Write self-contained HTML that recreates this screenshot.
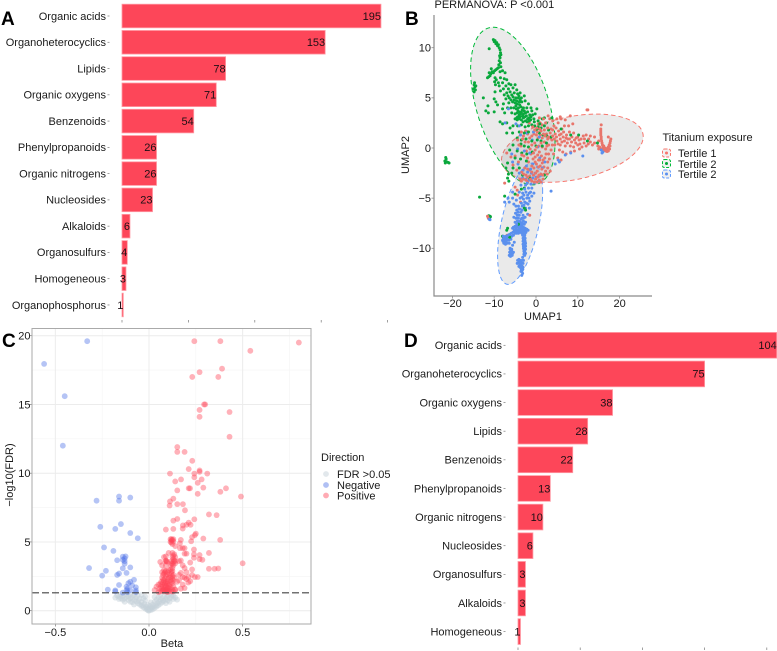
<!DOCTYPE html>
<html lang="en">
<head>
<meta charset="utf-8">
<title>Titanium exposure metabolomics figure</title>
<style>
html,body{margin:0;padding:0;background:#fff;width:777px;height:651px;overflow:hidden}
svg{display:block;font-family:"Liberation Sans",Arial,sans-serif;filter:blur(0.3px)}
text{fill:#1a1a1a;font-size:11px}
.letter{font-size:19px;font-weight:bold;fill:#000}
</style>
</head>
<body>
<svg id="fig" xmlns="http://www.w3.org/2000/svg" width="777" height="651" viewBox="0 0 777 651">
  <g id="panelA"></g>
  <g id="panelD"></g>
  <g id="panelB"></g>
  <g id="panelC"></g>

  <text class="letter" x="1" y="25">A</text>
  <text class="letter" x="405" y="25">B</text>
  <text class="letter" x="2" y="347">C</text>
  <text class="letter" x="404" y="347">D</text>

  <text x="434.5" y="8">PERMANOVA: P &lt;0.001</text>
  <text x="543" y="320" text-anchor="middle">UMAP1</text>
  <text transform="translate(409,155) rotate(-90)" text-anchor="middle">UMAP2</text>
  <text x="662.5" y="141">Titanium exposure</text>
  <g>
    <rect x="662.5" y="149" width="8" height="8" rx="2" fill="#f0f0f0" stroke="#F8766D" stroke-dasharray="3 1.5"/>
    <circle cx="666.5" cy="153" r="1.5" fill="#F8766D"/>
    <text x="678" y="157">Tertile 1</text>
  </g>
  <g>
    <rect x="662.5" y="159.5" width="8" height="8" rx="2" fill="#f0f0f0" stroke="#00BA38" stroke-dasharray="3 1.5"/>
    <circle cx="666.5" cy="163.5" r="1.5" fill="#00A838"/>
    <text x="678" y="168">Tertile 2</text>
  </g>
  <g>
    <rect x="662.5" y="170" width="8" height="8" rx="2" fill="#f0f0f0" stroke="#619CFF" stroke-dasharray="3 1.5"/>
    <circle cx="666.5" cy="174" r="1.5" fill="#5B90EE"/>
    <text x="678" y="178">Tertile 2</text>
  </g>

  <text x="172" y="647" text-anchor="middle">Beta</text>
  <text transform="translate(13,475) rotate(-90)" text-anchor="middle">−log10(FDR)</text>
  <text x="321" y="461">Direction</text>
  <g>
    <circle cx="326" cy="474" r="2.9" fill="#c5d2da" fill-opacity="0.5"/>
    <text x="337" y="478">FDR &gt;0.05</text>
  </g>
  <g>
    <circle cx="326" cy="485" r="2.9" fill="#4f73e6" fill-opacity="0.45"/>
    <text x="337" y="489">Negative</text>
  </g>
  <g>
    <circle cx="326" cy="495.5" r="2.9" fill="#ff4458" fill-opacity="0.45"/>
    <text x="337" y="499.5">Positive</text>
  </g>
</svg>

<script>
// ---------- Panel A data ----------
const categoriesA = ["Organic acids","Organoheterocyclics","Lipids","Organic oxygens","Benzenoids","Phenylpropanoids","Organic nitrogens","Nucleosides","Alkaloids","Organosulfurs","Homogeneous","Organophosphorus"];
const valuesA = [195,153,78,71,54,26,26,23,6,4,3,1];
const ticksA = [0,50,100,150,200];

// ---------- Panel D data ----------
const categoriesD = ["Organic acids","Organoheterocyclics","Organic oxygens","Lipids","Benzenoids","Phenylpropanoids","Organic nitrogens","Nucleosides","Organosulfurs","Alkaloids","Homogeneous"];
const valuesD = [104,75,38,28,22,13,10,6,3,3,1];
const ticksD = [0,25,50,75,100];

// ---------- Panel B data ----------
const umapTicksX = [-20,-10,0,10,20];
const umapTicksY = [-10,-5,0,5,10];
const umapTickLabelsX = ["−20","−10","0","10","20"];
const umapTickLabelsY = ["−10","−5","0","5","10"];
// ellipse: centre, half-width, half-height, correlation in data units
const ellipseTertile1 = {cx:8.7,cy:-0.02,sx:16.95,sy:3.4,rho:0.341};
const ellipseTertile2Green = {cx:-5.55,cy:4.18,sx:10.1,sy:7.86,rho:-0.4625};
const ellipseTertile2Blue = {cx:-3.8,cy:-7.55,sx:5.39,sy:6.05,rho:0.526};

const tertile1 = [[15.5,1.9],[15.5,1.7],[15.5,1.5],[15.5,1.3],[15.6,1.1],[15.6,.9],[15.7,.7],[15.8,.5],[15.9,.3],[16,.1],[16.2,-.1],[16.4,-.2],[16.7,-.3],[17,-.35],[17.3,-.3],[16,-.3],[15.6,-.1],[15.2,.1],[14.8,.2],[15,-.1],[16.5,0],[16.9,-.1],[17.3,.1],[17.5,.3],[17.7,.5],[17.8,.7],[17.9,.9],[17.2,0],[16.2,.2],[17.6,-.1],[17.7,.2],[15.6,2.3],[17.3,1.1],[12.4,3.8],[12.2,3.8],[14,.5],[13.5,.3],[13,.6],[12.5,.4],[12,.2],[11.5,.5],[11,.1],[10.5,.4],[10,.3],[9.5,.5],[13,1.2],[12,1.3],[11.3,1.2],[10.8,.9],[10.3,.8],[14,1.1],[15,.7],[9,.1],[8.5,.6],[8,.9],[7.5,.5],[7,.2],[9.2,-.3],[8.3,-.4],[7.2,-.6],[6.4,-.4],[5.6,-.2],[9,1.5],[8,1.6],[7.3,1.3],[6.5,1.1],[5.8,.9],[5,.7],[8.8,2.4],[7.8,2.2],[6.8,2.2],[6.2,1.9],[5.4,1.7],[4.6,1.4],[7,2.8],[6,2.9],[5.3,2.5],[4.3,2.2],[3.6,1.9],[6,-1.2],[5.2,-1],[4.2,-.6],[3.6,-.2],[3,.3],[2.8,.9],[2.5,1.4],[2,1.8],[1.5,2.3],[1,2.5],[.5,2.4],[3.3,2.9],[4.5,.3],[5.3,.4],[3.8,.8],[2,.6],[1.5,1],[1,1.3],[.5,1],[.1,1.3],[-.5,1.4],[-1,1.2],[-1.5,1],[-2,1.4],[-2.5,1.7],[-3,1.2],[-1.8,.6],[-1,.3],[-.3,.5],[.7,.2],[1.5,.1],[2.3,-.1],[3,-.6],[-.2,-.2],[-1.2,-.6],[-2.3,-.3],[.4,-.7],[1.3,-.8],[2.1,-1],[2.8,-1.4],[-.7,-1.1],[-1.8,-1.4],[.1,-1.6],[1,-1.8],[1.9,-1.9],[2.8,-2],[-.5,-2],[-1.5,-2.2],[-2.7,-2],[-3.4,-2.4],[.3,-2.3],[1.2,-2.6],[2,-2.6],[2.7,-2.6],[-.6,-2.7],[-1.5,-2.8],[-2.4,-2.7],[-3,-3.1],[-.1,-3.1],[.8,-3.2],[1.7,-3.1],[-1,-3.3],[-2,-3.4],[-3.5,-3.3],[-7.5,-3.5],[-4.5,-4.2],[-5,-3.9],[-4.4,-4.7],[-3.7,-5.4],[-1.5,-6.7],[-11.6,-6.8],[-11.4,-7],[-6.9,-8.7],[-5,-.8],[-4.2,-1.4],[-3.6,.2],[-2.9,-.8],[3.5,1],[4,1.8],[4.8,2],[5.6,1.3],[6.6,1.6],[7.6,.9],[8.2,.2],[9.6,1],[10.4,-.1],[11.6,.9],[12.6,.9],[1.8,2.9],[.2,2],[-.8,2.1],[-1.6,2.5],[.9,1.9],[2.2,1.2],[3.2,-1.1],[1.7,-1.2],[.6,-1.2],[-.2,-.9],[.8,-.4],[-1.4,-.1],[-2.6,.6],[-3.5,1.6],[-4.4,.8],[4,1.2],[4.4,.9],[3.4,1.5],[3,1.1],[3.9,.3],[4.9,1.1],[5.8,.3],[6.2,.6],[6.8,.7],[7.2,1],[8.6,1.1],[9.2,.8],[10,1.1],[6,1.4],[5,2.9],[4,2.7],[2.8,2],[2.3,2.5],[1.2,1.7],[.3,1.6],[-.3,1.8],[1.8,1.4],[2.6,.2],[1.2,.5],[.2,.1],[-.6,-.5],[.9,-1.2],[2.4,-.6],[1.5,-1.5],[-.2,-1.4],[-1,-1.8],[.6,-1.9],[1.4,-2.1],[2.3,-2.3],[-.1,-2.5],[.7,-2.7],[1.6,-2.7],[-1,-2.4],[-2,-2.1],[-2.4,-3.2],[-1.3,-3.1],[-.4,-3.4],[.3,-3.4],[1.2,-3.4],[-3,-2.6],[-2,-2.9],[-3.8,-3.1],[.4,-2.9],[3.4,-2.3],[-3.2,.9],[-4.1,.3],[-3.4,-.7],[-2,-1],[-4.6,-2.2],[-5.5,-1.7],[-6,-.9],[-7,-.5],[.8,3],[2.9,3.2],[5.8,3.1],[8.2,3.2]];

const tertile2Green = [[-10.2,10.8],[-10,10.6],[-9.8,10.7],[-9.6,10.4],[-9.4,10.5],[-9.2,10.2],[-9,10.3],[-8.8,10],[-8.6,9.8],[-8.5,9.5],[-8.7,9.2],[-8.6,9],[-8.4,9.3],[-8.8,8.7],[-8.5,8.5],[-8.9,8.3],[-8.4,8.1],[-9,8],[-9.3,7.9],[-9.6,7.8],[-9.9,7.7],[-10.2,7.5],[-10.5,7.6],[-10.8,7.4],[-11,7.2],[-11.3,7.1],[-11.6,7],[-11.2,7.5],[-10.7,7.9],[-8.6,7.6],[-8,7.7],[-7.4,7.5],[-11.2,9.9],[-14.8,6.3],[-14.6,6.1],[-14.9,5.9],[-14.5,5.8],[-14.7,6.5],[-14.4,6.2],[-14.8,5.6],[-21.8,-1.3],[-21.5,-1.1],[-21.3,-1.4],[-21.7,-1.5],[-21,-1.45],[-21.6,-.95],[-20.8,-1.5],[-13.5,-4.9],[-11.4,-6.9],[-11,-6.8],[-11.1,-7],[-10.9,-6.85],[-11.3,-6.75],[-9.8,7],[-9.5,6.8],[-9.9,6.6],[-9,6.5],[-8.5,7],[-7.6,6.9],[-8,6.5],[-7,6.8],[-8.8,6.2],[-9.7,6.3],[-7.2,6.2],[-6.5,6.4],[-6,6.3],[-5,6.3],[-7.8,5.9],[-6.6,5.9],[-5.5,6],[-4.6,5.8],[-9.8,5.6],[-8.5,5.7],[-7,5.5],[-6.2,5.6],[-5.2,5.5],[-4.4,5.4],[-3.8,5.5],[-12.6,5],[-10,4.9],[-9.6,4.6],[-7.2,4.9],[-6.4,5],[-5.5,5.1],[-4.8,5],[-4.2,5],[-3.5,5],[-2.8,5.2],[-11.5,4.2],[-9.2,4.3],[-7.8,4.4],[-6.5,4.5],[-5.6,4.6],[-5,4.5],[-4.5,4.4],[-4,4.6],[-3.4,4.6],[-2.6,4.7],[-1.8,4.4],[-8,3.9],[-6.8,4],[-6,4],[-5.3,4],[-4.7,3.9],[-4.2,4],[-3.6,4.1],[-3,4],[-2.2,4],[-1.2,4],[.2,3.9],[-1,3.7],[-12,3.7],[-11.4,3.5],[-10,3.6],[-7.5,3.5],[-5.8,3.5],[-5,3.4],[-4.5,3.5],[-4,3.3],[-3.5,3.6],[-3,3.4],[-2.5,3.5],[-2,3.6],[-1.5,3.3],[-.8,3.3],[-.2,3.4],[-8.6,2.6],[-7,2.5],[-8,2.4],[-5,2.9],[-4.5,2.8],[-4,2.9],[-3.5,2.8],[-3,3],[-2.5,2.7],[-2,2.9],[-1.3,2.8],[-.5,2.9],[.5,2.7],[1.5,2.9],[2,3],[2.5,2.5],[3.8,3],[-6.2,2],[-5.5,2.2],[-4.4,2.2],[-3.5,2.3],[-2.6,2.1],[-1.8,2.2],[-1,2.3],[-.3,2.2],[.5,2.1],[1.2,2],[2,2.2],[3,1.8],[-7,1.5],[-5.6,1.5],[-4,1.6],[-2.8,1.5],[-1.8,1.6],[0,1.8],[.3,1.9],[.8,1.5],[1.7,1.3],[2.6,1.2],[3.6,1.1],[-4.5,1],[-3.5,.8],[-2.4,.9],[-1,.7],[.3,.8],[1.2,.7],[2.5,.5],[-5.5,.3],[-3.6,.4],[-2.8,.2],[-1.8,.1],[0,.2],[1.5,.2],[-6.3,-.2],[-4.5,-.3],[-3.4,-.5],[-2.2,-.6],[-.9,-.4],[-5,-1],[-3.7,-1.1],[-2.3,-1.3],[-6.8,-1.5],[-7.2,-2],[-5.5,-2],[-4,-2],[-6.6,-2.6],[-5.8,-2.5],[-3.2,-2.7],[-6.8,-3],[-6.5,-3.3],[-1.5,-3],[2,-2.7],[-2.8,-4],[-3.5,-4.1],[-7.5,-4.8],[-5,-4.6],[-2.8,-6],[-2.5,-6.2],[-4.2,-7.6],[-6.8,-8],[-7,-8.2],[-6.3,-8.9],[-8,-8.8],[10.2,1.3],[12.3,.7],[14.7,.5],[8.3,1.3],[6,1.9],[-3.8,3.1],[-3.2,3.2],[-2.8,3.7],[-2.3,3.2],[-1.7,3],[-4.3,3.7],[-4.8,4.2],[-3.9,4.3],[-5.2,4.8],[-4.6,3],[-1.2,3.1],[-.4,2.6],[.9,2.4],[-3.3,3.8],[-3.7,3.4],[-2.7,3.1],[-2.1,2.6],[-1.6,2.7],[-4.1,3.6],[-4.4,3.1],[-3.1,2.6],[-3.8,4.8],[-4.6,4.7],[-4.1,5.2],[-5.8,5.3],[-6.7,5.2],[-7.6,5.3],[-6,4.8]];

const tertile2Blue = [[-5.4,-7.9],[-5,-7.8],[-4.6,-7.7],[-4.2,-7.8],[-3.8,-7.7],[-3.4,-7.8],[-3,-7.9],[-2.6,-8],[-2.2,-8.1],[-1.9,-8.2],[-5.2,-8.2],[-4.8,-8.1],[-4.4,-8.2],[-4,-8.1],[-3.6,-8.1],[-3.2,-8.2],[-2.8,-8.3],[-2.4,-8.4],[-4.6,-8.5],[-4.2,-8.5],[-3.8,-8.4],[-3.4,-8.5],[-3,-8.6],[-2.7,-8.7],[-3,-7.3],[-3.5,-7.1],[-4,-7.3],[-2.5,-7.4],[-4.5,-7.3],[-5,-7.4],[-2.9,-8.9],[-3,-9.1],[-2.8,-9.3],[-2.9,-9.5],[-2.8,-9.7],[-2.7,-9.9],[-2.9,-10.1],[-2.7,-10.3],[-2.8,-10.5],[-2.6,-9],[-2.6,-9.6],[-3,-10],[-5,-8.5],[-5.4,-8.7],[-5.8,-8.8],[-6.2,-8.8],[-6.6,-8.9],[-7,-9],[-7.4,-9],[-7.8,-9],[-8,-8.8],[-7.7,-9.3],[-7.2,-9.4],[-6.8,-9.2],[-6.4,-9.5],[-8,-9.2],[-6.2,-10],[-6,-10.3],[-5.8,-10.1],[-6,-10.6],[-5.6,-10.5],[-6.3,-10.4],[-5.6,-9.7],[-3.8,-11.2],[-4,-11.4],[-3.6,-11.3],[-3.4,-11.5],[-3.7,-11.6],[-3.3,-11.8],[-3.5,-12],[-3.2,-12.1],[-3.4,-12.3],[-3.2,-10.9],[-3,-11.2],[-4.6,-6.2],[-4.3,-6.4],[-4.9,-6.5],[-4.5,-6.7],[-4,-6.7],[-3.6,-6.4],[-3.1,-6.7],[-5.3,-6.9],[-4.8,-7],[-2.6,-6.9],[-2,-6.6],[-2.5,-6],[-3.3,-5.8],[-4.2,-5.8],[-5.3,-5.6],[-6.4,-5.4],[-7.5,-5.4],[-6.7,-5],[-5.6,-5],[-4.7,-5.2],[-3.8,-5],[-3,-5.1],[-2.2,-5],[-1.5,-5.3],[-1,-4.8],[-1.6,-4.5],[-2.4,-4.4],[-3.2,-4.5],[-4,-4.4],[-5.6,-4.4],[-1.8,-4],[-1,-4],[-.5,-4.5],[-2.5,-3.7],[-3.6,-3.7],[-.4,-3.5],[-1.2,-3.6],[.6,-3.3],[-1.6,-3.2],[-2.4,-3.1],[-3.2,-3],[-.8,-3],[0,-2.9],[.8,-2.8],[1.7,-2.7],[-.2,-2.5],[-1.1,-2.5],[-2,-2.4],[-3.1,-2.2],[-4,-2.5],[1.5,-2],[.4,-1.9],[-.8,-1.6],[-2.3,-1.8],[-4.3,-1.6],[-5.6,-1.4],[.9,-1],[2.1,-1.4],[5.3,-1.2],[7,-.7],[8.3,-.5],[11.2,-.8],[5.6,-1.4],[4.6,-1.6],[-1.5,-.5],[-2.8,-.3],[-4.4,-.1],[-5.8,-.6],[.4,.1],[-.9,.8],[-2.2,1.5],[-3.7,1.3],[-4.8,2.4],[-7.4,2.5],[-6.6,3.9],[-4,2.2],[-.6,1.6],[.8,1.1],[3.6,-4.3],[15.6,-.2],[16,-.4],[15.8,-.5],[-11.2,-7.1],[-11,-7.15],[-6,-9.1],[-5.2,-9.4],[-1.6,-6],[-1.9,-5.6],[-4.8,-5.8],[-3.8,-6.1],[-2.9,-4.7],[-1.3,-2.1],[-2.7,-5.4],[-3.5,-5.5],[-4.5,-7],[-3.3,-7.5],[-3.7,-7.4],[-4.2,-7.5],[-5.6,-8],[-5.2,-7.9],[-4.8,-8],[-4.4,-7.9],[-4,-7.9],[-3.6,-7.9],[-3.2,-8],[-2.8,-8.1],[-2.4,-8.2],[-5,-8.3],[-4.6,-8.3],[-4.2,-8.3],[-3.8,-8.3],[-3.4,-8.3],[-3,-8.4],[-2.6,-8.5],[-3.2,-8.7],[-2.8,-8.8],[-3.1,-9],[-2.7,-9.1],[-3.1,-9.3],[-2.6,-9.3],[-3.1,-9.6],[-2.5,-9.5],[-3,-9.8],[-2.5,-9.8],[-2.9,-10.3],[-2.5,-10.1],[-2.9,-10.6],[-2.5,-10.5],[-2.7,-10.7],[-3.6,-7.6],[-4.6,-7.6],[-3.2,-7.6],[-2.8,-7.6],[-3.4,-7],[-3,-7],[-4.2,-7],[-7.8,-8.8],[-7.5,-8.9],[-7.2,-8.8],[-7.9,-9.3],[-7.5,-9.2],[-7.1,-9.2],[-7.7,-9.5],[-7.3,-9.6],[-6.9,-9.5],[-6.5,-9.2],[-6.7,-8.7],[-6.3,-8.6],[-5.9,-8.5],[-5.5,-8.4],[-6.2,-10.1],[-5.8,-10.3],[-6.1,-10.5],[-5.7,-10.7],[-6.4,-10.7],[-5.4,-10.4],[-6.1,-10.8],[-4.4,-11.2],[-4.1,-11.1],[-4.5,-11.5],[-4.2,-11.5],[-3.9,-11.5],[-3.6,-11.7],[-4.1,-11.8],[-3.8,-11.9],[-3.5,-12.1],[-3.3,-11.2],[-3.1,-11.5],[-3.1,-11.9],[-3.6,-12.3],[-3.2,-12.5],[-3.4,-12.7],[-2,-4.7],[-2.7,-4.1],[-3.4,-4.9],[-1.3,-4.4],[-2.1,-3.5],[-1.7,-5],[-2.9,-5.7],[-2.3,-5.5],[-4.1,-6.1],[-3.3,-6.2]];

// ---------- Panel C data ----------
const volcanoTicksX = [-0.5,0,0.5];
const volcanoTickLabelsX = ["−0.5","0.0","0.5"];
const volcanoMinorX = [-0.25,0.25,0.75];
const volcanoTicksY = [0,5,10,15,20];
const volcanoMinorY = [2.5,7.5,12.5,17.5];
const fdrThreshold = 1.3;
const notSignificant = [[0,0],[.01,.05],[-.01,.08],[.02,.1],[-.02,.15],[.03,.2],[-.03,.25],[.04,.3],[-.04,.35],[.015,.22],[-.015,.3],[0,.2],[.005,.35],[-.008,.42],[.02,.45],[-.025,.5],[.05,.4],[-.05,.45],[.06,.5],[-.06,.55],[.045,.55],[-.04,.62],[.07,.6],[-.07,.7],[.03,.65],[-.02,.75],[.01,.6],[.08,.7],[-.08,.8],[.06,.8],[-.05,.88],[-.09,.62],[.09,.85],[-.1,.9],[.1,.75],[-.11,.78],[.11,.9],[.12,1],[-.12,1],[.13,.85],[-.13,.88],[.14,.95],[-.14,1.05],[.15,.8],[-.15,.9],[-.16,1.02],[-.18,.95],[-.17,1.1],[-.13,.65],[-.08,.45],[-.1,.65],[.08,1.05],[.1,1.1],[.06,1.15],[-.06,1.1],[-.04,1.15],[-.02,1.02],[-.08,1.15],[-.1,1.15],[-.12,1.2],[.12,1.15],[.03,1],[.05,.95],[.07,.9],[-.03,.9],[.09,.55],[.11,.65],[.13,1.1],[-.15,1.18],[0,.1],[-.005,.02],[.008,.15],[-.012,.18],[.022,.28],[-.035,.4],[.035,.4],[.055,.65],[-.055,.7],[-.07,.95],[-.09,1],[.04,.8],[.075,.75],[.095,1],[-.11,1.05],[-.14,.8],[-.16,.85]];
const negative = [[-.33,19.6],[-.56,17.95],[-.45,15.6],[-.46,12],[-.28,8],[-.16,8.3],[-.16,8],[-.1,8.23],[-.26,6.1],[-.18,5.95],[-.15,6.3],[-.1,5.65],[-.06,5.27],[-.24,4.6],[-.19,4.35],[-.17,3.67],[-.14,3.93],[-.13,3.8],[-.13,3.6],[-.13,3.42],[-.14,3.08],[-.1,3.15],[-.32,3.1],[-.23,2.9],[-.25,2.55],[-.16,2.7],[-.17,2.6],[-.12,2.75],[-.08,2.25],[-.1,2.1],[-.11,2],[-.16,1.87],[-.12,1.75],[-.07,1.7],[-.22,1.53],[-.18,1.48],[-.12,1.48],[-.1,1.48],[-.07,1.48],[-.14,1.31],[-.18,1.4],[-.115,1.6],[-.125,3.95],[-.14,3.7],[-.07,1.35],[-.115,1.35],[-.09,1.85]];
const positive = [[.242,19.6],[.381,19.6],[.8,19.5],[.541,18.9],[.39,17.6],[.27,17.35],[.231,17],[.37,17],[.294,15],[.3,15],[.27,14.6],[.43,14.45],[.27,14.1],[.43,12.65],[.151,11.9],[.151,11.55],[.19,11.55],[.231,10.9],[.212,10.3],[.27,10.2],[.27,10.1],[.112,9.97],[.311,9.97],[.242,9.97],[.242,9.7],[.281,9.55],[.14,9.4],[.26,9.3],[.171,9.55],[.212,8.9],[.219,8.9],[.29,8.95],[.411,8.9],[.381,8.65],[.151,8.75],[.26,8.5],[.491,8.3],[.13,8.15],[.112,7.95],[.11,7.65],[.151,7.75],[.181,7.75],[.192,7.3],[.32,7],[.361,6.95],[.242,6.65],[.151,6.67],[.13,6.55],[.212,6.4],[.2,6.25],[.181,6.2],[.222,6.25],[.13,5.95],[.18,5.97],[.09,5.9],[.12,5.2],[.125,5.15],[.115,5],[.13,5.05],[.125,4.85],[.14,4.7],[.17,5.15],[.165,4.9],[.18,4.55],[.19,4.55],[.165,4.55],[.19,4.15],[.2,4.15],[.23,5.35],[.225,5.05],[.245,5.5],[.25,5.6],[.29,5.25],[.38,5.15],[.24,4.45],[.24,4.1],[.24,3.85],[.27,4.05],[.27,3.75],[.285,3.7],[.32,4.2],[.22,3.5],[.23,3],[.32,3.05],[.35,3.05],[.37,3.07],[.5,3.45],[.09,3.95],[.08,3.9],[.105,4.2],[.125,4.2],[.135,4.1],[.14,3.9],[.13,3.75],[.12,3.6],[.14,3.6],[.14,3.45],[.12,3.45],[.095,3.6],[.09,3.6],[.06,3.55],[.07,3.3],[.09,3.3],[.16,3.6],[.17,3.65],[.18,3.3],[.19,3.1],[.2,2.8],[.17,2.75],[.16,2.6],[.18,2.45],[.2,2.3],[.21,2.45],[.22,2.15],[.19,2.4],[.16,2.2],[.15,2.1],[.18,1.9],[.19,1.65],[.17,1.6],[.14,1.55],[.245,2.45],[.26,2.45],[.23,2.6],[.21,2.05],[.08,2.95],[.09,2.9],[.1,2.8],[.08,2.7],[.09,2.55],[.11,2.6],[.125,2.9],[.12,2.7],[.125,2.5],[.125,2.3],[.115,2.2],[.1,2.3],[.085,2.35],[.075,2.25],[.065,2.1],[.06,1.95],[.05,1.9],[.04,1.75],[.07,1.9],[.085,2],[.1,2],[.11,1.9],[.125,2],[.13,1.8],[.055,1.6],[.07,1.6],[.085,1.7],[.095,1.55],[.11,1.6],[.125,1.55],[.06,1.4],[.08,1.4],[.1,1.35],[.03,1.5],[.05,1.35],[.075,1.75],[.09,1.8],[.1,1.7],[.1,1.45],[.14,1.5],[.07,2.4],[.08,2.2],[.09,2.1],[.1,2.15],[.075,2.05],[.085,1.85],[.095,1.95],[.105,1.8],[.115,1.7],[.07,1.45],[.08,1.55],[.09,1.5],[.1,1.6],[.11,1.45],[.12,1.4],[.13,1.4],[.065,1.75],[.075,1.5],[.085,1.45],[.095,1.4],[.105,2.4],[.115,2.45],[.12,2.1],[.13,2.2],[.135,2.4],[.13,2.6],[.12,2.85],[.115,3],[.125,3.1],[.13,3.3],[.125,3.4],[.115,3.3],[.13,3.55],[.135,3.65],[.125,3.9],[.13,4],[.075,2.6],[.085,2.8],[.095,2.65],[.105,2.95],[.07,2.8],[.12,5.1],[.115,5.2],[.13,5.2],[.12,4.95],[.09,3.65],[.095,3.55]];

// ---------- helpers ----------
const NS = "http://www.w3.org/2000/svg";
function mk(tag, attrs, parent, txt){
  const el = document.createElementNS(NS, tag);
  for (const k in attrs) el.setAttribute(k, attrs[k]);
  if (txt !== undefined) el.textContent = txt;
  parent.appendChild(el);
  return el;
}
function slug(s){ return String(s).toLowerCase().replace(/[^a-z0-9]+/g,'-'); }

// ---------- bar panels ----------
function drawBars(host, prefix, cats, vals, ticks, x0, unit, firstY, step, barH, tickY){
  const xs = v => x0 + v*unit;
  const ys = i => firstY + i*step;
  cats.forEach((c,i)=>{
    const lab = mk('text',{x:x0-16,y:ys(i)+3.8,'text-anchor':'end'},host,c);
    
    
    const tk = mk('line',{x1:x0-14.5,x2:x0-12.5,y1:ys(i),y2:ys(i),stroke:'#777','stroke-width':0.7},host);
    
    
    const bar = mk('rect',{x:x0,y:ys(i)-barH/2,width:xs(vals[i])-x0,height:barH,fill:'#fd4659',stroke:'#ff9aa4','stroke-width':0.8},host);
    
    
    const val = mk('text',{x:xs(vals[i]),y:ys(i)+3.8,'text-anchor':'end',style:'fill:#1d1015'},host,vals[i]);
    
    
  });
  ticks.forEach(t=>{
    const tk = mk('line',{x1:xs(t),x2:xs(t),y1:tickY,y2:tickY+2.5,stroke:'#777','stroke-width':0.7},host);
    
    
  });
}
drawBars(document.getElementById('panelA'),'panel-a',categoriesA,valuesA,ticksA,122,1.328,16,26.27,23.6,320);
drawBars(document.getElementById('panelD'),'panel-d',categoriesD,valuesD,ticksD,518,2.488,345.3,28.63,25.7,647.5);

// ---------- panel B ----------
const umapX = v => 536 + v*4.18;
const umapY = v => 148 - v*10.03;
const pB = document.getElementById('panelB');

function ellipsePath(e){
  const c = Math.sqrt(1 - e.rho*e.rho);
  const parts = [];
  for (let k=0;k<=96;k++){
    const t = k/96*2*Math.PI;
    const dx = e.sx*Math.cos(t);
    const dy = e.sy*(e.rho*Math.cos(t) + c*Math.sin(t));
    parts.push((k?'L':'M')+umapX(e.cx+dx).toFixed(2)+' '+umapY(e.cy+dy).toFixed(2));
  }
  return parts.join('')+'Z';
}
const el1 = mk('path',{d:ellipsePath(ellipseTertile1),fill:'#7f7f7f','fill-opacity':0.16,stroke:'#F8766D','stroke-width':1,'stroke-dasharray':'4.5 3'},pB);


const el2 = mk('path',{d:ellipsePath(ellipseTertile2Green),fill:'#7f7f7f','fill-opacity':0.16,stroke:'#00BA38','stroke-width':1,'stroke-dasharray':'4.5 3'},pB);


const el3 = mk('path',{d:ellipsePath(ellipseTertile2Blue),fill:'#7f7f7f','fill-opacity':0.16,stroke:'#619CFF','stroke-width':1,'stroke-dasharray':'4.5 3'},pB);



// points of the three groups are interleaved so no group fully covers another
const pointCount = Math.max(tertile1.length, tertile2Green.length, tertile2Blue.length);
for (let i = 0; i < pointCount; i++){
  if (i < tertile2Green.length){
    const g = mk('circle',{cx:umapX(tertile2Green[i][0]),cy:umapY(tertile2Green[i][1]),r:1.5,fill:'#0aa83c'},pB);
    
    
  }
  if (i < tertile2Blue.length){
    const b = mk('circle',{cx:umapX(tertile2Blue[i][0]),cy:umapY(tertile2Blue[i][1]),r:1.5,fill:'#5b90ee'},pB);
    
    
  }
  if (i < tertile1.length){
    const r = mk('circle',{cx:umapX(tertile1[i][0]),cy:umapY(tertile1[i][1]),r:1.5,fill:'#e8756b'},pB);
    
    
  }
}

const axB = mk('path',{d:'M434 15V296H652',fill:'none',stroke:'#8a8a8a','stroke-width':1.2},pB);


umapTicksX.forEach((t,i)=>{
  const tk = mk('line',{x1:umapX(t),x2:umapX(t),y1:296,y2:298.5,stroke:'#8a8a8a','stroke-width':0.8},pB);
  
  
  const lb = mk('text',{x:umapX(t),y:307,'text-anchor':'middle'},pB,umapTickLabelsX[i]);
  
  
});
umapTicksY.forEach((t,i)=>{
  const tk = mk('line',{x1:431.5,x2:434,y1:umapY(t),y2:umapY(t),stroke:'#8a8a8a','stroke-width':0.8},pB);
  
  
  const lb = mk('text',{x:431,y:umapY(t)+3.8,'text-anchor':'end'},pB,umapTickLabelsY[i]);
  
  
});

// ---------- panel C ----------
const volX = v => 149 + v*187.3;
const volY = v => 610.7 - v*13.75;
const pC = document.getElementById('panelC');
const L=32, R=311, T=328.5, B=624;
volcanoMinorX.forEach(t=>{
  const g = mk('line',{x1:volX(t),x2:volX(t),y1:T,y2:B,stroke:'#f4f4f4','stroke-width':0.6},pC);
  
  
});
volcanoMinorY.forEach(t=>{
  const g = mk('line',{x1:L,x2:R,y1:volY(t),y2:volY(t),stroke:'#f4f4f4','stroke-width':0.6},pC);
  
  
});
volcanoTicksX.forEach((t,i)=>{
  const g = mk('line',{x1:volX(t),x2:volX(t),y1:T,y2:B,stroke:'#ececec','stroke-width':1},pC);
  
  
  const tk = mk('line',{x1:volX(t),x2:volX(t),y1:B,y2:B+2.5,stroke:'#777','stroke-width':0.7},pC);
  
  
  const lb = mk('text',{x:volX(t),y:636,'text-anchor':'middle'},pC,volcanoTickLabelsX[i]);
  
  
});
volcanoTicksY.forEach(t=>{
  const g = mk('line',{x1:L,x2:R,y1:volY(t),y2:volY(t),stroke:'#ececec','stroke-width':1},pC);
  
  
  const tk = mk('line',{x1:L-2.5,x2:L,y1:volY(t),y2:volY(t),stroke:'#777','stroke-width':0.7},pC);
  
  
  const lb = mk('text',{x:L-1.5,y:volY(t)+3.8,'text-anchor':'end'},pC,t);
  
  
});
notSignificant.forEach(p=>{
  const pt = mk('circle',{cx:volX(p[0]),cy:volY(p[1]),r:2.9,fill:'#c5d2da','fill-opacity':0.5},pC);
  
  
});
negative.forEach(p=>{
  const pt = mk('circle',{cx:volX(p[0]),cy:volY(p[1]),r:2.9,fill:'#4f73e6','fill-opacity':0.42},pC);
  
  
});
positive.forEach(p=>{
  const pt = mk('circle',{cx:volX(p[0]),cy:volY(p[1]),r:2.9,fill:'#ff4458','fill-opacity':0.42},pC);
  
  
});
const thr = mk('line',{x1:L,x2:R,y1:volY(fdrThreshold),y2:volY(fdrThreshold),stroke:'#444','stroke-width':1.1,'stroke-dasharray':'7 3'},pC);


const frame = mk('rect',{x:L,y:T,width:R-L,height:B-T,fill:'none',stroke:'#aaa','stroke-width':1},pC);


</script>
</body>
</html>
